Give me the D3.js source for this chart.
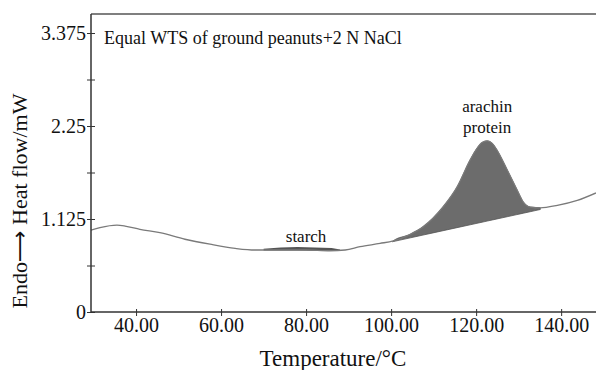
<!DOCTYPE html>
<html>
<head>
<meta charset="utf-8">
<script src="https://cdn.jsdelivr.net/npm/d3@7"></script>
<style>
body { margin: 0; background: #fff; }
text { font-family: "Liberation Serif", "Times New Roman", serif; fill: #111; }
</style>
</head>
<body>
<div id="chart"></div>
<script>
// DSC curve
var temps = [29.4, 31.5, 35.5, 37.4, 40.9, 45.6, 51.5, 57.4, 63.3, 68.0, 73.9, 79.8, 85.6, 89.2, 92.7, 97.4, 100.5, 104.5, 107.5, 112.2, 115.5, 118.6, 120.2, 121.4, 122.6, 123.8, 124.9, 127.3, 129.6, 131.1, 132.7, 135.1, 139.1, 143.8, 148.2];
var heatFlow = [0.99, 1.02, 1.05, 1.04, 1.00, 0.96, 0.88, 0.82, 0.77, 0.75, 0.75, 0.75, 0.74, 0.75, 0.79, 0.83, 0.86, 0.94, 1.03, 1.27, 1.51, 1.84, 1.98, 2.05, 2.07, 2.04, 1.96, 1.72, 1.48, 1.33, 1.27, 1.26, 1.29, 1.35, 1.44];
// arachin baseline (straight line under the peak)
var arachinBaseT = [100.3, 135.1];
var arachinBaseV = [0.85, 1.24];
// starch band
var starchT = [70, 74, 78, 82, 86, 88];
var starchTop = [0.765, 0.78, 0.785, 0.78, 0.775, 0.755];
var starchBottom = [0.745, 0.745, 0.745, 0.74, 0.74, 0.745];

var yTicks = [0, 1.125, 2.25, 3.375];
var yMinor = [0.5625, 1.6875, 2.8125];
var xTicks = [40, 60, 80, 100, 120, 140];

var w = 596, h = 370;
var padLeft = 91, padTop = 14, axisY = 312;

var svg = d3.select("#chart").append("svg").attr("width", w).attr("height", h);

var xScale = d3.scaleLinear().domain([29.4, 148.2]).range([padLeft, w]);
var yScale = d3.scaleLinear().domain([0, 3.605]).range([axisY, padTop]);

var data = temps.map(function(t, i) { return { t: t, v: heatFlow[i] }; });

// baseline for the arachin fill
var base = d3.scaleLinear().domain(arachinBaseT).range(arachinBaseV);
var peak = data.filter(function(d) { return d.t >= arachinBaseT[0] && d.t <= arachinBaseT[1]; });
peak.unshift({ t: arachinBaseT[0], v: arachinBaseV[0] });
peak.push({ t: arachinBaseT[1], v: arachinBaseV[1] });

var peakArea = d3.area()
    .curve(d3.curveMonotoneX)
    .x(function(d) { return xScale(d.t); })
    .y0(function(d) { return yScale(base(d.t)); })
    .y1(function(d) { return yScale(d.v); });
svg.append("path").datum(peak).attr("d", peakArea)
    .style("fill", "#6c6c6c").style("stroke", "#555").style("stroke-width", 0.8);

var starchArea = d3.area()
    .x(function(d, i) { return xScale(starchT[i]); })
    .y0(function(d, i) { return yScale(starchBottom[i]); })
    .y1(function(d, i) { return yScale(starchTop[i]); });
svg.append("path").datum(starchT).attr("d", starchArea).style("fill", "#555");

var line = d3.line()
    .curve(d3.curveMonotoneX)
    .x(function(d) { return xScale(d.t); })
    .y(function(d) { return yScale(d.v); });
svg.append("path").datum(data).attr("d", line)
    .style("fill", "none").style("stroke", "#7a7a7a").style("stroke-width", 1.3);

// frame: top line
svg.append("line").attr("x1", padLeft).attr("x2", w).attr("y1", padTop).attr("y2", padTop)
    .style("stroke", "#555").style("stroke-width", 1.5);

// y axis, ticks crossing the line
var yAxis = d3.axisLeft(yScale).tickValues(yTicks.concat(yMinor)).tickSize(4).tickPadding(1)
    .tickFormat(function(d) { return yTicks.indexOf(d) >= 0 ? d3.format("")(d) : ""; });
var gy = svg.append("g").attr("transform", "translate(" + padLeft + ",0)").call(yAxis);
gy.select(".domain").attr("d", "M0," + padTop + "V" + axisY).style("stroke", "#333").style("stroke-width", 1.5);
gy.selectAll(".tick line").attr("x1", 4).style("stroke", "#333");
gy.selectAll(".tick text").style("font-size", "20px").style("font-family", "Liberation Serif").attr("fill", "#111");

var xAxis = d3.axisBottom(xScale).tickValues(xTicks).tickSize(4).tickPadding(2).tickFormat(d3.format(".2f"));
var gx = svg.append("g").attr("transform", "translate(0," + axisY + ")").call(xAxis);
gx.select(".domain").attr("d", "M" + padLeft + ",0H" + w).style("stroke", "#333").style("stroke-width", 1.5);
gx.selectAll(".tick line").attr("y1", -3).style("stroke", "#333");
gx.selectAll(".tick text").style("font-size", "20px").style("font-family", "Liberation Serif").attr("fill", "#111");

// labels
svg.append("text").attr("x", 104).attr("y", 44).text("Equal WTS of ground peanuts+2 N NaCl").style("font-size", "18px");
svg.append("text").attr("x", xScale(80)).attr("y", 242).attr("text-anchor", "middle").text("starch").style("font-size", "17px");
svg.append("text").attr("x", xScale(122.6)).attr("y", 112).attr("text-anchor", "middle").text("arachin").style("font-size", "17px");
svg.append("text").attr("x", xScale(122.6)).attr("y", 133).attr("text-anchor", "middle").text("protein").style("font-size", "17px");

svg.append("text").attr("x", 333).attr("y", 366).attr("text-anchor", "middle").text("Temperature/°C").style("font-size", "23px");

var yl = svg.append("text").attr("transform", "translate(27,201) rotate(-90)").attr("text-anchor", "middle").style("font-size", "22px");
yl.append("tspan").text("Endo");
yl.append("tspan").text("⟶").style("font-family", "DejaVu Sans");
yl.append("tspan").text(" Heat flow/mW");
</script>
</body>
</html>
